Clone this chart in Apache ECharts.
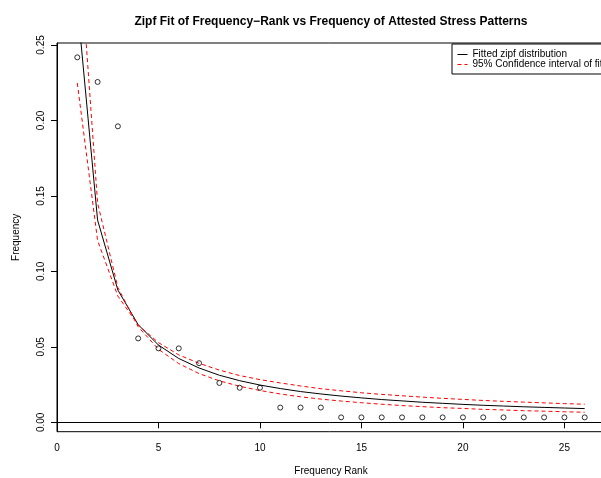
<!DOCTYPE html>
<html>
<head>
<meta charset="utf-8">
<script src="https://cdn.jsdelivr.net/npm/echarts@6/dist/echarts.min.js"></script>
<style>html,body{margin:0;padding:0;background:#fff}#c{width:601px;height:478px}</style>
</head>
<body>
<div id="c"></div>
<script>
var ranks = [1,2,3,4,5,6,7,8,9,10,11,12,13,14,15,16,17,18,19,20,21,22,23,24,25,26];
var observed = [0.2418,0.2255,0.1961,0.0556,0.0490,0.0490,0.0392,0.0261,0.0229,0.0229,0.0098,0.0098,0.0098,
                0.0033,0.0033,0.0033,0.0033,0.0033,0.0033,0.0033,0.0033,0.0033,0.0033,0.0033,0.0033,0.0033];
var fitted = [0.2775,0.1340,0.0876,0.0647,0.0512,0.0423,0.0360,0.0312,0.0276,0.0247,0.0224,0.0204,0.0188,
              0.0174,0.0162,0.0151,0.0142,0.0133,0.0126,0.0119,0.0113,0.0108,0.0103,0.0099,0.0095,0.0091];
var ciA = [0.2248,0.1205,0.0836,0.0645,0.0528,0.0447,0.0391,0.0346,0.0310,0.0283,0.0261,0.0241,0.0223,
           0.0209,0.0196,0.0185,0.0176,0.0167,0.0159,0.0152,0.0145,0.0139,0.0134,0.0129,0.0124,0.0120];
var ciB = [0.3338,0.1453,0.0893,0.0633,0.0484,0.0389,0.0323,0.0275,0.0239,0.0211,0.0188,0.0169,0.0154,
           0.0141,0.0130,0.0120,0.0111,0.0104,0.0097,0.0092,0.0086,0.0082,0.0077,0.0074,0.0070,0.0067];
var xTicks = [0,5,10,15,20,25];
var yTicks = [0,0.05,0.10,0.15,0.20,0.25];
var titleText = 'Zipf Fit of Frequency\u2212Rank vs Frequency of Attested Stress Patterns';
var fitName = 'Fitted zipf distribution';
var ciName = '95% Confidence interval of fit';

function pairs(ys){ return ranks.map(function(r,i){ return [r, ys[i]]; }); }

var FONT = '"Liberation Sans", Arial, Helvetica, sans-serif';
var chart = echarts.init(document.getElementById('c'), null, {renderer:'canvas'});
chart.setOption({
  animation: false,
  backgroundColor: '#fff',
  textStyle: {fontFamily: FONT},
  title: {
    text: titleText, left: 331, top: 16, textAlign: 'center', padding: 0,
    textStyle: {fontFamily: FONT, fontSize: 12, fontWeight: 'bold', color: '#000'}
  },
  legend: {
    data: [fitName, ciName],
    orient: 'vertical', left: 452, top: 44,
    padding: [5.5, 20, 4.5, 5],
    borderColor: '#000', borderWidth: 1,
    itemWidth: 10, itemHeight: 9.5, itemGap: 0,
    itemStyle: {opacity: 0},
    lineStyle: {width: 1},
    textStyle: {fontFamily: FONT, fontSize: 10, color: '#000', lineHeight: 9.5},
    selectedMode: false
  },
  grid: {left: 57, width: 548, top: 43, bottom: 46.3, show: true, borderColor: '#000', borderWidth: 1,
         containLabel: false, outerBoundsMode: 'none'},
  xAxis: {
    type: 'value', min: 0, max: 27,
    name: 'Frequency Rank', nameLocation: 'middle', nameGap: 35,
    nameTextStyle: {fontFamily: FONT, fontSize: 10, color: '#000'},
    axisLine: {show: true, lineStyle: {color: '#000', width: 1}},
    axisTick: {show: true, length: 6, customValues: xTicks, lineStyle: {color: '#000'}},
    axisLabel: {customValues: xTicks, margin: 12, fontFamily: FONT, fontSize: 10, color: '#000'},
    splitLine: {show: false}
  },
  yAxis: {
    type: 'value', min: -0.0062, max: 0.2513,
    name: 'Frequency', nameLocation: 'middle', nameGap: 36,
    nameTextStyle: {fontFamily: FONT, fontSize: 10, color: '#000'},
    axisLine: {show: true, lineStyle: {color: '#000', width: 1}},
    axisTick: {show: true, length: 6, customValues: yTicks, lineStyle: {color: '#000'}},
    axisLabel: {customValues: yTicks, rotate: 90, margin: 11, fontFamily: FONT, fontSize: 10, color: '#000',
                formatter: function(v){ return v.toFixed(2); }},
    splitLine: {show: false}
  },
  series: [
    {type: 'scatter', name: 'observed', data: pairs(observed), symbol: 'circle', symbolSize: 5,
     itemStyle: {color: 'rgba(0,0,0,0)', borderColor: '#000', borderWidth: 1}, z: 5},
    {type: 'line', name: fitName, data: pairs(fitted), symbol: 'none', showSymbol: false,
     lineStyle: {color: '#000', width: 1, type: 'solid'}, itemStyle: {color: '#000'}, clip: true},
    {type: 'line', name: ciName, data: pairs(ciA), symbol: 'none', showSymbol: false,
     lineStyle: {color: '#ff0000', width: 1, type: [4,3]}, itemStyle: {color: '#ff0000'}, clip: true},
    {type: 'line', name: ciName, data: pairs(ciB), symbol: 'none', showSymbol: false,
     lineStyle: {color: '#ff0000', width: 1, type: [4,3]}, itemStyle: {color: '#ff0000'}, clip: true}
  ]
});
</script>
</body>
</html>
